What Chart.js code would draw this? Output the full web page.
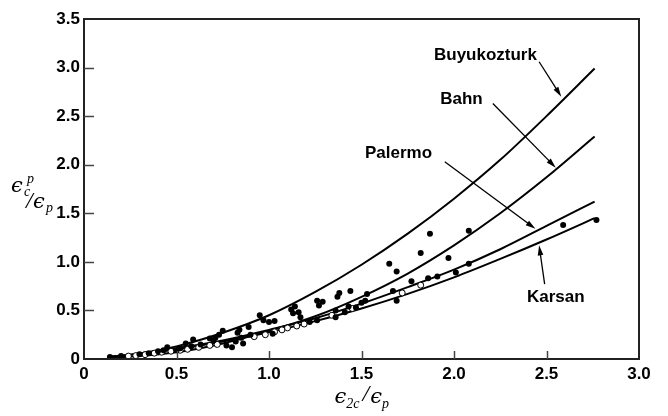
<!DOCTYPE html>
<html lang="en">
<head>
    <meta charset="UTF-8">
    <title>Plastic strain ratio</title>
    <script src="https://cdn.jsdelivr.net/npm/chart.js"></script>
    <style>
        * {
            margin: 0;
            padding: 0;
            box-sizing: border-box;
        }

        body {
            background: #ffffff;
        }

        .chart-container {
            width: 668px;
            height: 416px;
        }
    </style>
</head>
<body>
    <div class="chart-container">
        <canvas id="strainChart"></canvas>
    </div>

    <script>
        // curves, read along the x axis
        const curveX = [0.14, 0.25, 0.5, 0.75, 1.0, 1.25, 1.5, 1.75, 2.0, 2.25, 2.5, 2.76];
        const buyukozturk = [0.02, 0.04, 0.13, 0.27, 0.45, 0.69, 0.97, 1.29, 1.65, 2.05, 2.50, 2.99];
        const bahn = [0.01, 0.025, 0.07, 0.16, 0.29, 0.44, 0.64, 0.88, 1.17, 1.50, 1.87, 2.29];
        const palermo = [0.025, 0.045, 0.11, 0.19, 0.30, 0.42, 0.57, 0.74, 0.92, 1.13, 1.37, 1.62];
        const karsan = [0.02, 0.04, 0.10, 0.18, 0.275, 0.39, 0.52, 0.67, 0.84, 1.03, 1.23, 1.45];

        // test points (filled)
        const filledX = [0.14, 0.20, 0.30, 0.35, 0.40, 0.43, 0.45, 0.50, 0.52, 0.55, 0.58, 0.59, 0.63, 0.68, 0.70,
            0.71, 0.73, 0.75, 0.77, 0.80, 0.82, 0.83, 0.84, 0.85, 0.86, 0.89, 0.90, 0.95, 0.97, 1.00, 1.03, 1.02,
            1.12, 1.14, 1.13, 1.16, 1.17, 1.22, 1.26, 1.29, 1.27, 1.26, 1.36, 1.37, 1.38, 1.41, 1.43, 1.44,
            1.47, 1.50, 1.52, 1.53, 1.36, 1.65, 1.67, 1.69, 1.69, 1.77, 1.82, 1.86, 1.87, 1.91, 1.97, 2.01,
            2.08, 2.08, 2.59, 2.77];
        const filledY = [0.02, 0.03, 0.05, 0.06, 0.08, 0.09, 0.12, 0.09, 0.11, 0.16, 0.13, 0.20, 0.15, 0.21, 0.19,
            0.22, 0.25, 0.29, 0.14, 0.12, 0.18, 0.27, 0.30, 0.22, 0.16, 0.33, 0.25, 0.45, 0.40, 0.38, 0.39, 0.26,
            0.51, 0.54, 0.47, 0.48, 0.43, 0.38, 0.60, 0.59, 0.55, 0.40, 0.50, 0.64, 0.68, 0.48, 0.54, 0.70,
            0.53, 0.58, 0.60, 0.67, 0.43, 0.98, 0.70, 0.90, 0.60, 0.80, 1.09, 0.83, 1.29, 0.85, 1.04, 0.89,
            0.98, 1.32, 1.38, 1.43];

        // test points (open)
        const openX = [0.24, 0.28, 0.33, 0.38, 0.42, 0.47, 0.52, 0.56, 0.62, 0.68, 0.72, 0.92, 0.98, 1.03, 1.07,
            1.10, 1.15, 1.19, 1.34, 1.45, 1.72, 1.82];
        const openY = [0.03, 0.035, 0.045, 0.06, 0.07, 0.08, 0.09, 0.10, 0.12, 0.14, 0.15, 0.23, 0.25, 0.28, 0.30,
            0.32, 0.34, 0.36, 0.45, 0.52, 0.68, 0.76];

        const xTicks = [0, 0.5, 1.0, 1.5, 2.0, 2.5, 3.0];
        const yTicks = [0, 0.5, 1.0, 1.5, 2.0, 2.5, 3.0, 3.5];

        // curve labels with arrow tail and head, in data units
        const labels = [
            { text: 'Buyukozturk', x: 2.17, y: 3.13, tail: [2.46, 3.06], head: [2.58, 2.70] },
            { text: 'Bahn', x: 2.04, y: 2.67, tail: [2.21, 2.63], head: [2.55, 1.97] },
            { text: 'Palermo', x: 1.70, y: 2.12, tail: [1.95, 2.03], head: [2.44, 1.34] },
            { text: 'Karsan', x: 2.55, y: 0.63, tail: [2.49, 0.77], head: [2.46, 1.17] }
        ];

        const toPoints = (xs, ys) => xs.map((x, i) => ({ x: x, y: ys[i] }));

        function curve(data) {
            return {
                type: 'line',
                data: toPoints(curveX, data),
                borderColor: '#000',
                borderWidth: 2,
                pointRadius: 0,
                fill: false,
                cubicInterpolationMode: 'monotone'
            };
        }

        function arrow(ctx, x1, y1, x2, y2) {
            const ang = Math.atan2(y2 - y1, x2 - x1);
            const len = 10, half = 2.8;
            ctx.beginPath();
            ctx.moveTo(x1, y1);
            ctx.lineTo(x2 - Math.cos(ang) * len * 0.8, y2 - Math.sin(ang) * len * 0.8);
            ctx.stroke();
            ctx.beginPath();
            ctx.moveTo(x2, y2);
            ctx.lineTo(x2 - Math.cos(ang) * len - Math.sin(ang) * half, y2 - Math.sin(ang) * len + Math.cos(ang) * half);
            ctx.lineTo(x2 - Math.cos(ang) * len + Math.sin(ang) * half, y2 - Math.sin(ang) * len - Math.cos(ang) * half);
            ctx.closePath();
            ctx.fill();
        }

        // draws runs of text: [text, font, dx, dy]
        function drawRuns(ctx, runs, x, y) {
            let cx = x;
            runs.forEach(r => {
                ctx.font = r[1];
                ctx.fillText(r[0], cx + (r[2] || 0), y + (r[3] || 0));
                cx += ctx.measureText(r[0]).width + (r[2] || 0);
            });
        }

        const framePlugin = {
            id: 'frame',
            afterDatasetsDraw(chart) {
                const { ctx, chartArea: a, scales } = chart;
                ctx.save();
                ctx.strokeStyle = '#222';
                ctx.lineWidth = 2;
                ctx.strokeRect(a.left, a.top, a.right - a.left, a.bottom - a.top);

                ctx.strokeStyle = '#444';
                ctx.lineWidth = 1.5;
                yTicks.slice(1, -1).forEach(v => {
                    const py = Math.round(scales.y.getPixelForValue(v)) + 0.5;
                    ctx.beginPath();
                    ctx.moveTo(a.left, py);
                    ctx.lineTo(a.left + 10, py);
                    ctx.stroke();
                });
                xTicks.slice(1, -1).forEach(v => {
                    const px = Math.round(scales.x.getPixelForValue(v)) + 0.5;
                    ctx.beginPath();
                    ctx.moveTo(px, a.bottom);
                    ctx.lineTo(px, a.bottom - 8);
                    ctx.stroke();
                });

                // curve labels and arrows
                ctx.fillStyle = '#000';
                ctx.strokeStyle = '#000';
                ctx.lineWidth = 1.3;
                ctx.font = 'bold 17px "Liberation Sans", Arial, sans-serif';
                ctx.textAlign = 'center';
                ctx.textBaseline = 'middle';
                labels.forEach(l => {
                    ctx.fillText(l.text, scales.x.getPixelForValue(l.x), scales.y.getPixelForValue(l.y));
                    arrow(ctx,
                        scales.x.getPixelForValue(l.tail[0]), scales.y.getPixelForValue(l.tail[1]),
                        scales.x.getPixelForValue(l.head[0]), scales.y.getPixelForValue(l.head[1]));
                });

                // axis titles
                const big = 'italic 21px "DejaVu Serif", "Liberation Serif", serif';
                const small = 'italic 14px "Liberation Serif", "DejaVu Serif", serif';
                const slash = 'italic 24px "Liberation Serif", "DejaVu Serif", serif';
                ctx.textAlign = 'left';
                ctx.textBaseline = 'alphabetic';
                ctx.font = big;
                ctx.fillText('\u03f5', 11, 192);
                ctx.font = small;
                ctx.fillText('p', 27, 183);
                ctx.fillText('c', 24, 196);
                ctx.font = slash;
                ctx.fillText('/', 26, 208);
                ctx.font = big;
                ctx.fillText('\u03f5', 33, 208);
                ctx.font = small;
                ctx.fillText('p', 46, 212);

                const cx = (a.left + a.right) / 2;
                drawRuns(ctx, [
                    ['\u03f5', big],
                    ['2c', small, 0, 5],
                    ['/', slash, 3, -2],
                    ['\u03f5', big, 1],
                    ['p', small, 0, 5]
                ], cx - 27, 403);
                ctx.restore();
            }
        };

        const tickFont = { family: '"Liberation Sans", Arial, sans-serif', size: 17, weight: 'bold' };
        const tickLabel = v => v === 0 ? '0' : v.toFixed(1);

        new Chart(document.getElementById('strainChart'), {
            type: 'scatter',
            data: {
                datasets: [
                    {
                        data: toPoints(filledX, filledY),
                        backgroundColor: '#000',
                        borderColor: '#000',
                        pointRadius: 3,
                        borderWidth: 0
                    },
                    {
                        data: toPoints(openX, openY),
                        backgroundColor: '#fff',
                        borderColor: '#000',
                        pointRadius: 3,
                        borderWidth: 1
                    },
                    curve(buyukozturk),
                    curve(bahn),
                    curve(palermo),
                    curve(karsan)
                ]
            },
            options: {
                responsive: true,
                maintainAspectRatio: false,
                animation: false,
                layout: { padding: { top: 19, right: 29, left: 0, bottom: 0 } },
                plugins: {
                    legend: { display: false },
                    tooltip: { enabled: false }
                },
                scales: {
                    x: {
                        min: 0,
                        max: 3,
                        afterBuildTicks: s => { s.ticks = xTicks.map(v => ({ value: v })); },
                        afterFit: s => { s.height = 57; },
                        grid: { display: false, drawTicks: false },
                        border: { display: false },
                        ticks: { color: '#000', font: tickFont, padding: 5, callback: tickLabel, maxRotation: 0 }
                    },
                    y: {
                        min: 0,
                        max: 3.5,
                        afterBuildTicks: s => { s.ticks = yTicks.map(v => ({ value: v })); },
                        afterFit: s => { s.width = 84; },
                        grid: { display: false, drawTicks: false },
                        border: { display: false },
                        ticks: { color: '#000', font: tickFont, padding: 4, callback: tickLabel }
                    }
                }
            },
            plugins: [framePlugin]
        });
    </script>
</body>
</html>
